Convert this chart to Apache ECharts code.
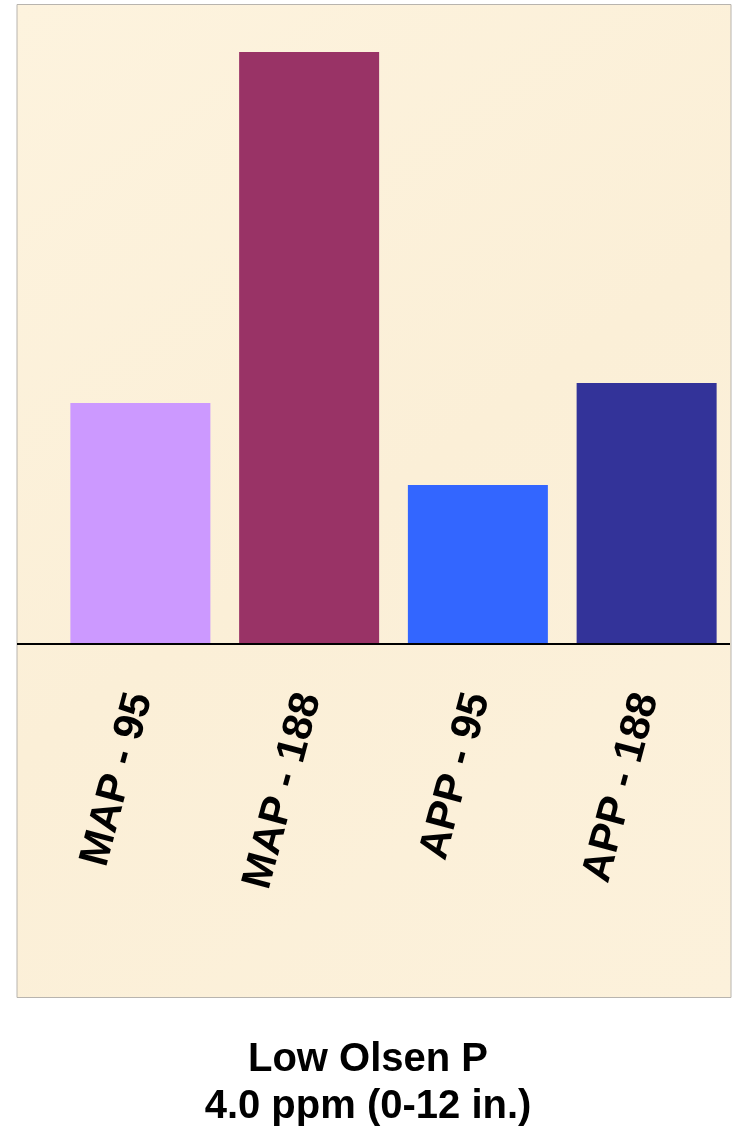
<!DOCTYPE html>
<html>
<head>
<meta charset="utf-8">
<script src="https://cdn.jsdelivr.net/npm/echarts@6/dist/echarts.min.js"></script>
<style>
  html, body { margin: 0; padding: 0; background: #ffffff; }
  #chart { width: 736px; height: 1134px; }
</style>
</head>
<body>
<div id="chart"></div>
<script>
// Treatment categories and their relative responses
const categories = ['MAP - 95', 'MAP - 188', 'APP - 95', 'APP - 188'];
const responses = [24.1, 59.2, 15.9, 26.1];
const barColors = ['#cc99ff', '#993366', '#3366ff', '#333399'];
const titleLines = ['Low Olsen P', '4.0 ppm (0-12 in.)'];

const FONT = '"Liberation Sans", Arial, sans-serif';
const chart = echarts.init(document.getElementById('chart'));

chart.setOption({
  backgroundColor: '#ffffff',
  animation: false,
  title: {
    text: titleLines.join('\n'),
    left: 'center',
    top: 1031,
    textStyle: { fontFamily: FONT, fontSize: 40, fontWeight: 'bold', color: '#000', lineHeight: 47 }
  },
  grid: { left: 56, right: 5, top: 4, bottom: 490, containLabel: false },
  xAxis: {
    type: 'category',
    data: categories,
    axisLine: { show: false },
    axisTick: { show: false },
    axisLabel: {
      interval: 0,
      rotate: 75,
      margin: 50,
      fontFamily: FONT,
      fontSize: 42,
      fontWeight: 'bold',
      color: '#000'
    }
  },
  yAxis: {
    type: 'value',
    min: 0,
    max: 64,
    show: false,
    splitLine: { show: false }
  },
  series: [{
    type: 'bar',
    barWidth: 140,
    data: responses.map((v, i) => ({ value: v, itemStyle: { color: barColors[i] } }))
  }]
});

// Parchment panel behind the plot and the baseline across it
const baseY = chart.convertToPixel({ yAxisIndex: 0 }, 0);
chart.setOption({
  graphic: [
    {
      type: 'rect', z: -10, silent: true,
      shape: { x: 17, y: 4.5, width: 714, height: 993 },
      style: {
        fill: new echarts.graphic.LinearGradient(0, 0, 1, 1, [
          { offset: 0, color: '#fdf3de' },
          { offset: 0.5, color: '#fbefd7' },
          { offset: 1, color: '#fcf1db' }
        ]),
        stroke: '#b8b4ae', lineWidth: 1
      }
    },
    {
      type: 'line', z: 10, silent: true,
      shape: { x1: 17, y1: baseY, x2: 730, y2: baseY },
      style: { stroke: '#000', lineWidth: 2 }
    }
  ]
});
</script>
</body>
</html>
